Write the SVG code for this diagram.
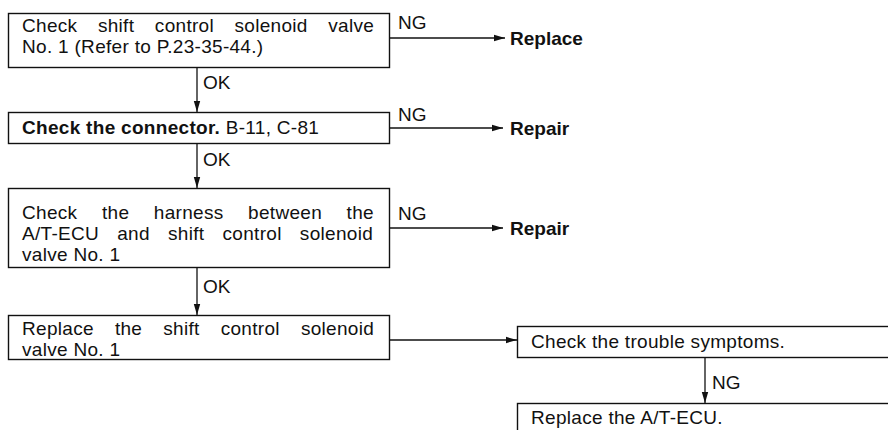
<svg xmlns="http://www.w3.org/2000/svg" width="888" height="430" viewBox="0 0 888 430">
<style>
.box{fill:#fff;stroke:#111;stroke-width:1.4}
.t{font-family:"Liberation Sans",Arial,sans-serif;font-size:19px;fill:#111}
.n{letter-spacing:0.3px}
.b{font-weight:bold}
.c{fill:none;stroke:#111;stroke-width:1.3}
</style>
<defs>
<marker id="ah" markerUnits="userSpaceOnUse" markerWidth="12" markerHeight="8" refX="11" refY="4" orient="auto">
<path d="M0,0.8 L11,4 L0,7.2 z" fill="#111"/>
</marker>
</defs>
<rect width="888" height="430" fill="#fff"/>
<g id="connectors">
<path class="c" d="M390,38 H505" marker-end="url(#ah)"/>
<path class="c" d="M197,68 V112" marker-end="url(#ah)"/>
<path class="c" d="M390,128 H503" marker-end="url(#ah)"/>
<path class="c" d="M197,143 V188" marker-end="url(#ah)"/>
<path class="c" d="M390,228 H503" marker-end="url(#ah)"/>
<path class="c" d="M197,267 V315" marker-end="url(#ah)"/>
<path class="c" d="M390,340 H517" marker-end="url(#ah)"/>
<path class="c" d="M705,357 V403" marker-end="url(#ah)"/>
<text class="t" x="398" y="29">NG</text>
<text class="t" x="203" y="89">OK</text>
<text class="t" x="398" y="121">NG</text>
<text class="t" x="203" y="166">OK</text>
<text class="t" x="398" y="220">NG</text>
<text class="t" x="203" y="293">OK</text>
<text class="t" x="712" y="389">NG</text>
</g>
<g id="n1">
<rect class="box" x="8.5" y="13.5" width="381" height="54"/>
<text class="t n" x="22" y="32" style="word-spacing:15px">Check shift control solenoid valve</text>
<text class="t n" x="22" y="53">No. 1 (Refer to P.23-35-44.)</text>
</g>
<g id="n1ng"><text class="t b" x="510" y="45">Replace</text></g>
<g id="n2">
<rect class="box" x="8.5" y="112.5" width="381" height="31"/>
<text class="t n" x="22" y="134"><tspan class="b">Check the connector.</tspan> B-11, C-81</text>
</g>
<g id="n2ng"><text class="t b" x="510" y="135">Repair</text></g>
<g id="n3">
<rect class="box" x="8.5" y="188.5" width="381" height="79"/>
<text class="t n" x="22" y="219" style="word-spacing:19px">Check the harness between the</text>
<text class="t n" x="22" y="240" style="word-spacing:12.6px">A/T-ECU and shift control solenoid</text>
<text class="t n" x="22" y="261">valve No. 1</text>
</g>
<g id="n3ng"><text class="t b" x="510" y="235">Repair</text></g>
<g id="n4">
<rect class="box" x="8.5" y="315.5" width="381" height="44"/>
<text class="t n" x="22" y="335" style="word-spacing:15.5px">Replace the shift control solenoid</text>
<text class="t n" x="22" y="356">valve No. 1</text>
</g>
<g id="n5">
<rect class="box" x="517.5" y="326.5" width="400" height="31"/>
<text class="t n" x="531" y="348">Check the trouble symptoms.</text>
</g>
<g id="n6">
<rect class="box" x="517.5" y="403.5" width="400" height="40"/>
<text class="t n" x="531" y="424">Replace the A/T-ECU.</text>
</g>
</svg>
